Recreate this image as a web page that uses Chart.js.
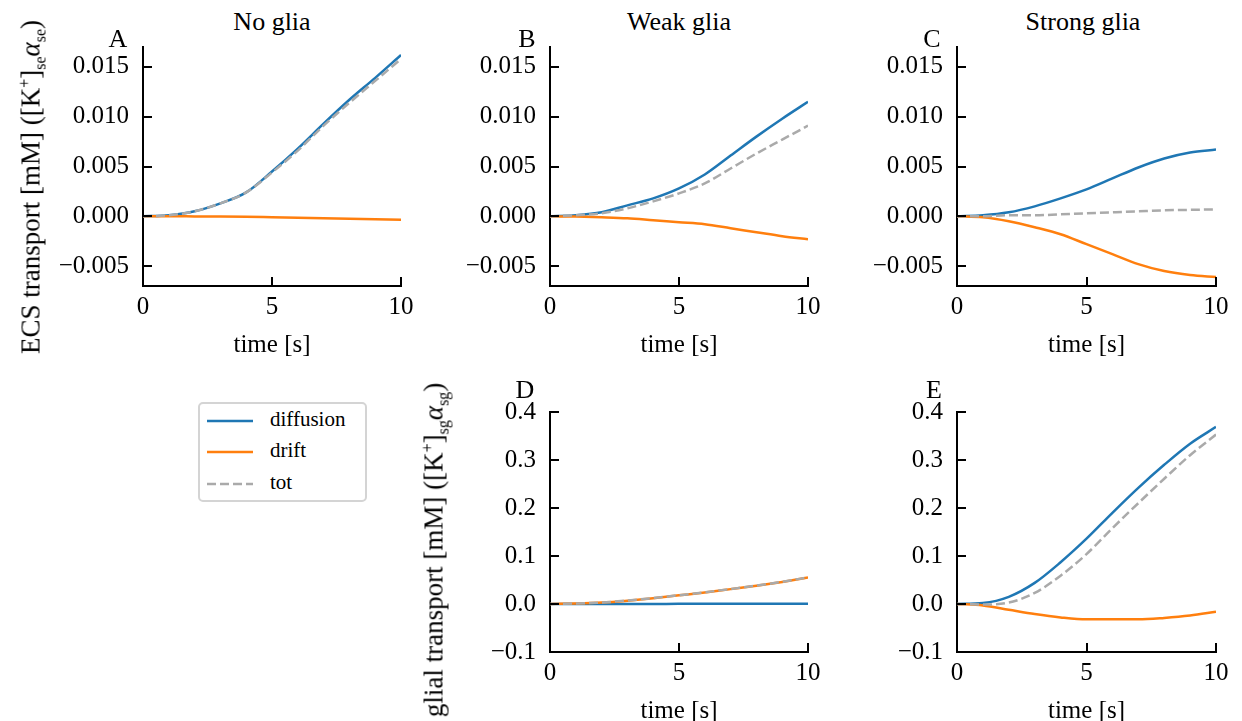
<!DOCTYPE html>
<html>
<head>
<meta charset="utf-8">
<script src="https://cdn.jsdelivr.net/npm/chart.js@4"></script>
<style>
  body { margin: 0; width: 1242px; height: 721px; background: #fff; position: relative; overflow: hidden;
         font-family: "Liberation Serif", "DejaVu Serif", serif; color: #000; }
  canvas { position: absolute; }
  .txt { position: absolute; white-space: nowrap; line-height: 1; font-size: 26px; }
  .ylab { position: absolute; white-space: nowrap; line-height: 1; font-size: 27px; transform-origin: center center; }
  .ylab sub, .ylab sup { font-size: 16px; line-height: 0; }
  #legend { position: absolute; left: 198px; top: 402px; width: 169px; height: 100px; box-sizing: border-box;
            border: 2px solid #d4d4d4; border-radius: 5px; font-size: 21px; }
  #legend .row { position: absolute; left: 0; height: 24px; line-height: 24px; }
  #legend svg { position: absolute; left: 7px; top: 10px; }
  #legend span { position: absolute; left: 70px; top: -2px; }
</style>
</head>
<body>
<canvas id="cA"></canvas>
<canvas id="cB"></canvas>
<canvas id="cC"></canvas>
<canvas id="cD"></canvas>
<canvas id="cE"></canvas>

<div class="txt" style="left:272px;top:9px;transform:translateX(-50%)">No glia</div>
<div class="txt" style="left:679px;top:9px;transform:translateX(-50%)">Weak glia</div>
<div class="txt" style="left:1083px;top:9px;transform:translateX(-50%)">Strong glia</div>

<div class="txt" style="left:118px;top:26px;transform:translateX(-50%)">A</div>
<div class="txt" style="left:527px;top:26px;transform:translateX(-50%)">B</div>
<div class="txt" style="left:932px;top:26px;transform:translateX(-50%)">C</div>
<div class="txt" style="left:525px;top:377px;transform:translateX(-50%)">D</div>
<div class="txt" style="left:934px;top:377px;transform:translateX(-50%)">E</div>

<div class="ylab" style="left:31px;top:187px;transform:translate(-50%,-50%) rotate(-90deg)">ECS transport [mM] ([K<sup>+</sup>]<sub>se</sub><i>α</i><sub>se</sub>)</div>
<div class="ylab" style="left:434px;top:550px;transform:translate(-50%,-50%) rotate(-90deg)">glial transport [mM] ([K<sup>+</sup>]<sub>sg</sub><i>α</i><sub>sg</sub>)</div>

<div id="legend">
  <div class="row" style="top:5px"><svg width="50" height="4"><line x1="0" y1="2" x2="46" y2="2" stroke="#1f77b4" stroke-width="2.5"/></svg><span>diffusion</span></div>
  <div class="row" style="top:36px"><svg width="50" height="4"><line x1="0" y1="2" x2="46" y2="2" stroke="#ff7f0e" stroke-width="2.5"/></svg><span>drift</span></div>
  <div class="row" style="top:68px"><svg width="50" height="4"><line x1="0" y1="2" x2="46" y2="2" stroke="#aaaaaa" stroke-width="2.5" stroke-dasharray="9,4"/></svg><span>tot</span></div>
</div>

<script>
// time axis shared by all panels
const times = [0, 1, 2, 3, 4, 5, 6, 7, 8, 9, 10];
const xTicks = [0, 5, 10];
const yTicksTop = [-0.005, 0, 0.005, 0.01, 0.015];
const yTicksBot = [-0.1, 0, 0.1, 0.2, 0.3, 0.4];

// A: no glia (ECS)
const diffA = [0, 0.0001, 0.0005, 0.0013, 0.0024, 0.0045, 0.0068, 0.0093, 0.0117, 0.0139, 0.0162];
const driftA = [0, 0, -0.00001, -0.00002, -0.00005, -0.0001, -0.00015, -0.0002, -0.00025, -0.0003, -0.00035];
const totA = [0, 0.0001, 0.0005, 0.0013, 0.0024, 0.0044, 0.0066, 0.0091, 0.0114, 0.0136, 0.0158];

// B: weak glia (ECS)
const diffB = [0, 0.0001, 0.0004, 0.0011, 0.0018, 0.0028, 0.0042, 0.0061, 0.008, 0.0098, 0.0115];
const driftB = [0, -0.00003, -0.0001, -0.0002, -0.0004, -0.0006, -0.0008, -0.0012, -0.0016, -0.002, -0.0023];
const totB = [0, 0.0001, 0.0003, 0.0008, 0.0015, 0.0023, 0.0033, 0.0048, 0.0063, 0.0077, 0.0091];

// C: strong glia (ECS)
const diffC = [0, 0.0001, 0.0004, 0.001, 0.0018, 0.0027, 0.0038, 0.0049, 0.0058, 0.0064, 0.0067];
const driftC = [0, -0.0001, -0.0005, -0.0011, -0.0018, -0.0028, -0.0038, -0.0048, -0.0055, -0.0059, -0.0061];
const totC = [0, 0, 0.0001, 0.0001, 0.0002, 0.0003, 0.0004, 0.0005, 0.0006, 0.00065, 0.0007];

// D: weak glia (glial)
const diffD = [0, 0, 0.0001, 0.0002, 0.0002, 0.0003, 0.0003, 0.0003, 0.0003, 0.0003, 0.0003];
const driftD = [0, 0.001, 0.003, 0.007, 0.012, 0.018, 0.024, 0.031, 0.038, 0.046, 0.055];
const totD = [0, 0.001, 0.0031, 0.0072, 0.0122, 0.0183, 0.0243, 0.0313, 0.0383, 0.0463, 0.0553];

// E: strong glia (glial)
const diffE = [0, 0.002, 0.015, 0.044, 0.087, 0.136, 0.19, 0.242, 0.29, 0.334, 0.369];
const driftE = [0, -0.003, -0.012, -0.021, -0.028, -0.032, -0.032, -0.032, -0.029, -0.024, -0.016];
const totE = [0, -0.001, 0.003, 0.023, 0.059, 0.104, 0.158, 0.21, 0.261, 0.31, 0.353];

const BLUE = "#1f77b4";
const ORANGE = "#ff7f0e";
const GREY = "#aaaaaa";
const FONT = "Liberation Serif, DejaVu Serif, serif";

// space around the plot area inside each canvas
const PAD_L = 100, PAD_T = 10, PAD_R = 25, PAD_B = 75;

// matplotlib style inward ticks
const inwardTicks = {
  id: "inwardTicks",
  afterDatasetsDraw(chart) {
    const { ctx, chartArea } = chart;
    const x = chart.scales.x;
    const y = chart.scales.y;
    ctx.save();
    ctx.strokeStyle = "#000";
    ctx.lineWidth = 2;
    x.ticks.forEach((t) => {
      const px = Math.round(x.getPixelForValue(t.value));
      ctx.beginPath();
      ctx.moveTo(px, chartArea.bottom);
      ctx.lineTo(px, chartArea.bottom - 9);
      ctx.stroke();
    });
    y.ticks.forEach((t) => {
      const py = Math.round(y.getPixelForValue(t.value));
      ctx.beginPath();
      ctx.moveTo(chartArea.left, py);
      ctx.lineTo(chartArea.left + 9, py);
      ctx.stroke();
    });
    ctx.restore();
  },
};

function series(label, values, color, order, dashed) {
  return {
    label,
    data: times.map((t, i) => ({ x: t, y: values[i] })),
    borderColor: color,
    borderWidth: 2.5,
    borderDash: dashed ? [9, 4] : [],
    pointRadius: 0,
    cubicInterpolationMode: "monotone",
    fill: false,
    order,
  };
}

function makePanel(id, left, top, w, h, diff, drift, tot, ymin, ymax, yTicks, decimals) {
  const canvas = document.getElementById(id);
  canvas.style.left = left - PAD_L + "px";
  canvas.style.top = top - PAD_T + "px";
  canvas.width = PAD_L + w + PAD_R;
  canvas.height = PAD_T + h + PAD_B;

  new Chart(canvas, {
    type: "line",
    data: {
      datasets: [
        series("diffusion", diff, BLUE, 2, false),
        series("drift", drift, ORANGE, 1, false),
        series("tot", tot, GREY, 0, true),
      ],
    },
    options: {
      responsive: false,
      animation: false,
      layout: { padding: { top: PAD_T, right: PAD_R, left: 0, bottom: 0 } },
      plugins: { legend: { display: false }, tooltip: { enabled: false } },
      scales: {
        x: {
          type: "linear",
          min: 0,
          max: 10,
          afterBuildTicks: (s) => { s.ticks = xTicks.map((v) => ({ value: v })); },
          afterFit: (s) => {
            s.height = PAD_B;
            s.paddingLeft = 0;
            s.paddingRight = 0;
          },
          grid: { display: false, drawTicks: false },
          border: { display: true, color: "#000", width: 2 },
          ticks: {
            color: "#000",
            padding: 6,
            maxRotation: 0,
            autoSkip: false,
            font: { family: FONT, size: 25 },
            callback: (v) => String(v),
          },
          title: {
            display: true,
            text: "time [s]",
            color: "#000",
            padding: { top: 0, bottom: 3 },
            font: { family: FONT, size: 25, lineHeight: 1 },
          },
        },
        y: {
          type: "linear",
          min: ymin,
          max: ymax,
          afterBuildTicks: (s) => { s.ticks = yTicks.map((v) => ({ value: v })); },
          afterFit: (s) => {
            s.width = PAD_L;
            s.paddingTop = 0;
            s.paddingBottom = 0;
          },
          grid: { display: false, drawTicks: false },
          border: { display: true, color: "#000", width: 2 },
          ticks: {
            color: "#000",
            padding: 14,
            autoSkip: false,
            font: { family: FONT, size: 25 },
            callback: (v) => {
              const s = Math.abs(v) < 1e-12 ? (0).toFixed(decimals) : v.toFixed(decimals);
              return s.replace("-", "\u2212");
            },
          },
        },
      },
    },
    plugins: [inwardTicks],
  });
}

function drawAll() {
  makePanel("cA", 143, 47, 258, 239, diffA, driftA, totA, -0.007, 0.017, yTicksTop, 3);
  makePanel("cB", 550, 47, 258, 239, diffB, driftB, totB, -0.007, 0.017, yTicksTop, 3);
  makePanel("cC", 957, 47, 259, 239, diffC, driftC, totC, -0.007, 0.017, yTicksTop, 3);
  makePanel("cD", 550, 412, 258, 240, diffD, driftD, totD, -0.1, 0.4, yTicksBot, 1);
  makePanel("cE", 957, 412, 259, 240, diffE, driftE, totE, -0.1, 0.4, yTicksBot, 1);
}

document.fonts.load('25px "Liberation Serif"').then(drawAll, drawAll);
</script>
</body>
</html>
